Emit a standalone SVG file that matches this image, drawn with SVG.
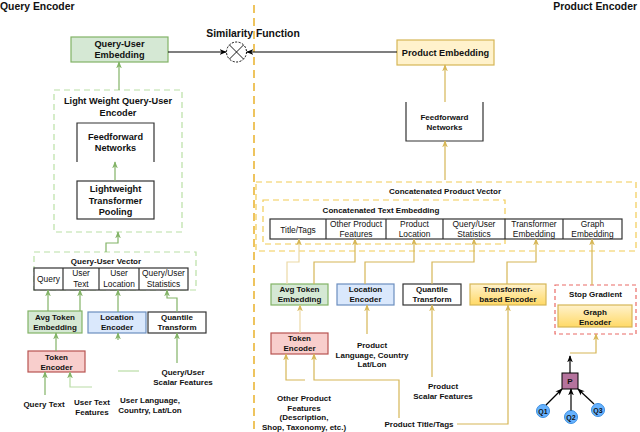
<svg xmlns="http://www.w3.org/2000/svg" width="640" height="432" viewBox="0 0 640 432">
<style>
text{font-family:"Liberation Sans",Arial,sans-serif;fill:#111}
.b{font-weight:bold}
.t{font-size:10.4px;font-weight:bold}
.m{font-size:9.2px;font-weight:bold}
.s{font-size:8px;font-weight:bold}
.c{font-size:8.4px}
.g{fill:none;stroke:#82b366;stroke-width:1.2}
.gl{fill:none;stroke:#b9dca6;stroke-width:1.2}
.o{fill:none;stroke:#d6b656;stroke-width:1.2}
.ol{fill:none;stroke:#ecd9a6;stroke-width:1.2}
.k{fill:none;stroke:#000;stroke-width:1.2}
.box{fill:#fff;stroke:#333;stroke-width:1.2}
.gr{fill:#d5e8d4;stroke:#82b366;stroke-width:1.2}
.bl{fill:#dae8fc;stroke:#6c8ebf;stroke-width:1.2}
.rd{fill:#f8cecc;stroke:#b85450;stroke-width:1.2}
.ye{fill:#fff2cc;stroke:#d6b656;stroke-width:1.2}
.yg{fill:url(#yg);stroke:#d6b656;stroke-width:1.2}
.dg{fill:none;stroke:#b9e0a5;stroke-width:1.2;stroke-dasharray:6,4}
.dy{fill:none;stroke:#f2cc55;stroke-width:1.2;stroke-dasharray:6,4}
.dr{fill:none;stroke:#ea6b66;stroke-width:1.2;stroke-dasharray:4,3}
.q{fill:#66b2ff;stroke:#3d8fe0;stroke-width:1}
</style>
<defs>
<linearGradient id="yg" x1="0" y1="0" x2="0" y2="1"><stop offset="0" stop-color="#fff2cc"/><stop offset="1" stop-color="#ffd966"/></linearGradient>
<marker id="ag" viewBox="0 0 10 10" refX="9" refY="5" markerWidth="6" markerHeight="6" orient="auto"><path d="M0,1 L10,5 L0,9 L3,5 z" fill="#82b366"/></marker>
<marker id="ao" viewBox="0 0 10 10" refX="9" refY="5" markerWidth="6" markerHeight="6" orient="auto"><path d="M0,1 L10,5 L0,9 L3,5 z" fill="#d6b656"/></marker>
<marker id="ak" viewBox="0 0 10 10" refX="9" refY="5" markerWidth="6" markerHeight="6" orient="auto"><path d="M0,1 L10,5 L0,9 L3,5 z" fill="#000"/></marker>
</defs>
<rect width="640" height="432" fill="#fff"/>

<g id="titles">
<text x="0" y="10" class="t">Query Encoder</text>
<text x="637" y="10" class="t" text-anchor="end">Product Encoder</text>
<text x="253" y="37" class="t" text-anchor="middle">Similarity Function</text>
</g>

<line id="divider" x1="254" y1="5" x2="254" y2="432" stroke="#e5a50a" stroke-width="1.3" stroke-dasharray="8,5"/>

<g id="similarity">
<circle cx="236.5" cy="52" r="10" fill="#fff" stroke="#000" stroke-width="1" stroke-dasharray="2,1.5"/>
<path d="M229.4,44.9 L243.6,59.1 M243.6,44.9 L229.4,59.1" stroke="#000" stroke-width="0.9"/>
</g>

<!-- Query side nodes -->
<g id="query-user-embedding">
<rect x="71" y="37" width="97" height="25" class="gr"/>
<text x="119.5" y="46.5" class="m" text-anchor="middle">Query-User</text>
<text x="119.5" y="57.5" class="m" text-anchor="middle">Embedding</text>
</g>
<g id="light-weight-encoder">
<rect x="54" y="90" width="128" height="142" class="dg"/>
<text x="118" y="104" class="m" text-anchor="middle">Light Weight Query-User</text>
<text x="118" y="116" class="m" text-anchor="middle">Encoder</text>
</g>
<g id="q-feedforward">
<path d="M77,162 V123 H154 V162" fill="#fff" stroke="#333" stroke-width="1.2"/>
<text x="115.5" y="140" class="m" text-anchor="middle">Feedforward</text>
<text x="115.5" y="151" class="m" text-anchor="middle">Networks</text>
</g>
<g id="q-transformer-pooling">
<rect x="77" y="181" width="77" height="38" class="box"/>
<text x="115.5" y="192" class="m" text-anchor="middle">Lightweight</text>
<text x="115.5" y="203.5" class="m" text-anchor="middle">Transformer</text>
<text x="115.5" y="215" class="m" text-anchor="middle">Pooling</text>
</g>
<g id="query-user-vector">
<rect x="34" y="252" width="162" height="38" class="dg"/>
<text x="106" y="264" class="s" text-anchor="middle">Query-User Vector</text>
<rect x="34" y="268" width="154" height="22" class="box"/>
<path d="M63,268 V290 M99,268 V290 M139,268 V290" stroke="#333" stroke-width="1.2"/>
<text x="48.5" y="282" class="c" text-anchor="middle">Query</text>
<text x="81" y="276" class="c" text-anchor="middle">User</text>
<text x="81" y="286.5" class="c" text-anchor="middle">Text</text>
<text x="119" y="276" class="c" text-anchor="middle">User</text>
<text x="119" y="286.5" class="c" text-anchor="middle">Location</text>
<text x="163.5" y="276" class="c" text-anchor="middle">Query/User</text>
<text x="163.5" y="286.5" class="c" text-anchor="middle">Statistics</text>
</g>
<g id="q-avg-token">
<rect x="28" y="311" width="54" height="22" class="gr"/>
<text x="55" y="320" class="s" text-anchor="middle">Avg Token</text>
<text x="55" y="330" class="s" text-anchor="middle">Embedding</text>
</g>
<g id="q-location-encoder">
<rect x="88" y="312" width="58" height="21" class="bl"/>
<text x="117" y="320" class="s" text-anchor="middle">Location</text>
<text x="117" y="330" class="s" text-anchor="middle">Encoder</text>
</g>
<g id="q-quantile">
<rect x="148" y="312" width="58" height="21" class="box" stroke="#000"/>
<text x="177" y="320" class="s" text-anchor="middle">Quantile</text>
<text x="177" y="330" class="s" text-anchor="middle">Transform</text>
</g>
<g id="q-token-encoder">
<rect x="28" y="351" width="57" height="21" class="rd"/>
<text x="56.5" y="360" class="s" text-anchor="middle">Token</text>
<text x="56.5" y="370" class="s" text-anchor="middle">Encoder</text>
</g>
<g id="q-inputs">
<text x="44" y="407" class="s" text-anchor="middle">Query Text</text>
<text x="92" y="405" class="s" text-anchor="middle">User Text</text>
<text x="92" y="415" class="s" text-anchor="middle">Features</text>
<text x="150" y="403" class="s" text-anchor="middle">User Language,</text>
<text x="150" y="413" class="s" text-anchor="middle">Country, Lat/Lon</text>
<text x="183" y="375" class="s" text-anchor="middle">Query/User</text>
<text x="183" y="385" class="s" text-anchor="middle">Scalar Features</text>
</g>

<!-- Product side nodes -->
<g id="product-embedding">
<rect x="397" y="40" width="97" height="25" class="ye"/>
<text x="445.5" y="56" class="m" text-anchor="middle">Product Embedding</text>
</g>
<g id="p-feedforward">
<path d="M406,102 V141 H483 V102" fill="none" stroke="#333" stroke-width="1.2"/>
<text x="444.5" y="120" class="s" text-anchor="middle">Feedforward</text>
<text x="444.5" y="130" class="s" text-anchor="middle">Networks</text>
</g>
<g id="concat-product-vector">
<rect x="256" y="182" width="380" height="69" class="dy"/>
<text x="445" y="194" class="s" text-anchor="middle">Concatenated Product Vector</text>
</g>
<g id="concat-text-embedding">
<rect x="263" y="200" width="242" height="44" class="dy"/>
<text x="381" y="213" class="s" text-anchor="middle">Concatenated Text Embedding</text>
</g>
<g id="product-vector-cells">
<rect x="270" y="219" width="352" height="20" class="box"/>
<path d="M326,219 V239 M386,219 V239 M443,219 V239 M505,219 V239 M563,219 V239" stroke="#333" stroke-width="1.2"/>
<text x="298" y="233" class="c" text-anchor="middle">Title/Tags</text>
<text x="356" y="227" class="c" text-anchor="middle">Other Product</text>
<text x="356" y="237" class="c" text-anchor="middle">Features</text>
<text x="414.5" y="227" class="c" text-anchor="middle">Product</text>
<text x="414.5" y="237" class="c" text-anchor="middle">Location</text>
<text x="474" y="227" class="c" text-anchor="middle">Query/User</text>
<text x="474" y="237" class="c" text-anchor="middle">Statistics</text>
<text x="534" y="227" class="c" text-anchor="middle">Transformer</text>
<text x="534" y="237" class="c" text-anchor="middle">Embedding</text>
<text x="592.5" y="227" class="c" text-anchor="middle">Graph</text>
<text x="592.5" y="237" class="c" text-anchor="middle">Embedding</text>
</g>
<g id="p-avg-token">
<rect x="271" y="284" width="57" height="21" class="gr"/>
<text x="299.5" y="292" class="s" text-anchor="middle">Avg Token</text>
<text x="299.5" y="302" class="s" text-anchor="middle">Embedding</text>
</g>
<g id="p-location-encoder">
<rect x="337" y="284" width="57" height="21" class="bl"/>
<text x="365.5" y="292" class="s" text-anchor="middle">Location</text>
<text x="365.5" y="302" class="s" text-anchor="middle">Encoder</text>
</g>
<g id="p-quantile">
<rect x="403" y="284" width="58" height="21" class="box"/>
<text x="432" y="292" class="s" text-anchor="middle">Quantile</text>
<text x="432" y="302" class="s" text-anchor="middle">Transform</text>
</g>
<g id="p-transformer-encoder">
<rect x="470" y="284" width="76" height="21" class="yg"/>
<text x="508" y="292" class="s" text-anchor="middle">Transformer-</text>
<text x="508" y="302" class="s" text-anchor="middle">based Encoder</text>
</g>
<g id="stop-gradient">
<rect x="555" y="285" width="81" height="49" class="dr"/>
<text x="595.5" y="297" class="s" text-anchor="middle">Stop Gradient</text>
</g>
<g id="graph-encoder">
<rect x="558" y="305" width="74" height="22" class="yg"/>
<text x="595" y="315" class="s" text-anchor="middle">Graph</text>
<text x="595" y="325" class="s" text-anchor="middle">Encoder</text>
</g>
<g id="p-token-encoder">
<rect x="271" y="333" width="57" height="21" class="rd"/>
<text x="299.5" y="341" class="s" text-anchor="middle">Token</text>
<text x="299.5" y="351" class="s" text-anchor="middle">Encoder</text>
</g>
<g id="p-node">
<rect x="562" y="373" width="16" height="16" fill="#b5739d" stroke="#000" stroke-width="1"/>
<text x="570" y="384" class="s" text-anchor="middle">P</text>
</g>
<g id="q1"><circle cx="543" cy="411" r="6.5" class="q"/><text x="543" y="414" font-size="7px" class="b" text-anchor="middle">Q1</text></g>
<g id="q2"><circle cx="571" cy="417" r="6.5" class="q"/><text x="571" y="420" font-size="7px" class="b" text-anchor="middle">Q2</text></g>
<g id="q3"><circle cx="598" cy="410" r="6.5" class="q"/><text x="598" y="413" font-size="7px" class="b" text-anchor="middle">Q3</text></g>
<g id="p-inputs">
<text x="372" y="348" class="s" text-anchor="middle">Product</text>
<text x="372" y="357.5" class="s" text-anchor="middle">Language, Country</text>
<text x="372" y="367" class="s" text-anchor="middle">Lat/Lon</text>
<text x="443" y="389" class="s" text-anchor="middle">Product</text>
<text x="443" y="399" class="s" text-anchor="middle">Scalar Features</text>
<text x="304" y="401" class="s" text-anchor="middle">Other Product</text>
<text x="304" y="410.5" class="s" text-anchor="middle">Features</text>
<text x="304" y="420" class="s" text-anchor="middle">(Description,</text>
<text x="304" y="429.5" class="s" text-anchor="middle">Shop, Taxonomy, etc.)</text>
<text x="419" y="427" class="s" text-anchor="middle">Product Title/Tags</text>
</g>

<g id="connectors">
<!-- similarity -->
<path d="M168,52 H226" class="k" marker-end="url(#ak)"/>
<path d="M397,52 H247" class="k" marker-end="url(#ak)"/>
<!-- query side -->
<path d="M119,90 V62" class="g" marker-end="url(#ag)"/>
<path d="M115,181 V162" class="g" marker-end="url(#ag)"/>
<path d="M106,252 V243 H118 V232" class="g" marker-end="url(#ag)"/>
<path d="M48,311 V290" class="g" marker-end="url(#ag)"/>
<path d="M80,311 V290" class="g" marker-end="url(#ag)"/>
<path d="M118,312 V290" class="g" marker-end="url(#ag)"/>
<path d="M177,312 V298 H167 V290" class="g" marker-end="url(#ag)"/>
<path d="M56,351 V333" class="g" marker-end="url(#ag)"/>
<path d="M139,371 H118" class="gl"/>
<path d="M118,340 V333" class="g" marker-end="url(#ag)"/>
<path d="M45,395 V372" class="g" marker-end="url(#ag)"/>
<path d="M92,387 H70 V372" class="gl" marker-end="url(#ag)"/>
<path d="M177,363 V333" class="g" marker-end="url(#ag)"/>
<!-- product side -->
<path d="M445,102 V65" class="o" marker-end="url(#ao)"/>
<path d="M445,180 V141" class="o" marker-end="url(#ao)"/>
<path d="M287,284 V262 H299 V239" class="ol" marker-end="url(#ao)"/>
<path d="M314,284 V262 H355 V239" class="o" marker-end="url(#ao)"/>
<path d="M365,284 V262 H414 V239" class="o" marker-end="url(#ao)"/>
<path d="M432,284 V262 H474 V239" class="o" marker-end="url(#ao)"/>
<path d="M507,284 V262 H536 V239" class="o" marker-end="url(#ao)"/>
<path d="M592,285 V239" class="o" marker-end="url(#ao)"/>
<path d="M300,333 V305" class="ol" marker-end="url(#ao)"/>
<path d="M367,334 V305" class="o" marker-end="url(#ao)"/>
<path d="M432,377 V305" class="o" marker-end="url(#ao)"/>
<path d="M457,424 H508 V305" class="o" marker-end="url(#ao)"/>
<path d="M305,380 H286 V354" class="o" marker-end="url(#ao)"/>
<path d="M399,418 V380 H314 V354" class="o" marker-end="url(#ao)"/>
<path d="M570,353 H596 V334" class="o" marker-end="url(#ao)"/>
<path d="M570,373 V356" class="k" marker-end="url(#ak)"/>
<path d="M546,405 L562,389" class="k" marker-end="url(#ak)"/>
<path d="M571,410.5 V389" class="k" marker-end="url(#ak)"/>
<path d="M594,404 L578,389" class="k" marker-end="url(#ak)"/>
</g>
</svg>
